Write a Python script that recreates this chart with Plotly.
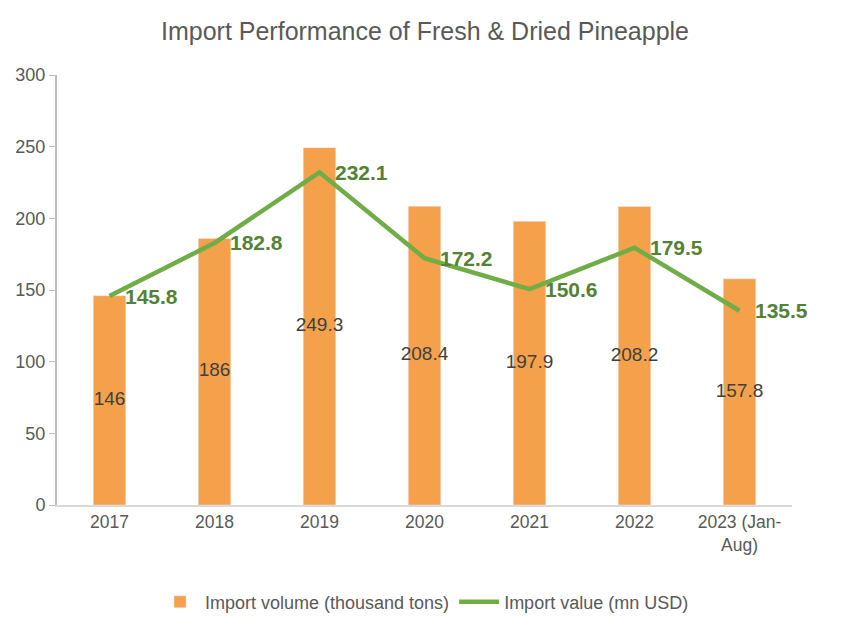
import plotly.graph_objects as go

categories = ["2017", "2018", "2019", "2020", "2021", "2022", "2023 (Jan-<br>Aug)"]
volume = [146, 186, 249.3, 208.4, 197.9, 208.2, 157.8]
value = [145.8, 182.8, 232.1, 172.2, 150.6, 179.5, 135.5]
volume_labels = ["146", "186", "249.3", "208.4", "197.9", "208.2", "157.8"]
value_labels = ["145.8", "182.8", "232.1", "172.2", "150.6", "179.5", "135.5"]

FONT = "Liberation Sans, Arial, sans-serif"

fig = go.Figure()
fig.add_trace(go.Bar(
    x=categories, y=volume, name="Import volume (thousand tons)",
    marker=dict(color="#F5A04A"), width=0.31,
))
fig.add_trace(go.Scatter(
    x=categories, y=value, name="Import value (mn USD)",
    mode="lines", line=dict(color="#70AD47", width=4.5),
))
# bar value labels at bar centre
fig.add_trace(go.Scatter(
    x=categories, y=[v / 2 for v in volume], mode="text", text=volume_labels,
    textposition="middle center", showlegend=False, hoverinfo="skip",
    textfont=dict(family=FONT, size=19, color="#404040"),
))
for i, (v, t) in enumerate(zip(value, value_labels)):
    fig.add_annotation(x=i, y=v, text=t, showarrow=False, xanchor="left",
                       yanchor="middle", xshift=13,
                       font=dict(family=FONT, size=21, color="#548235", weight="bold"))

fig.update_layout(
    width=850, height=631,
    margin=dict(l=57, r=58, t=75, b=125),
    paper_bgcolor="white", plot_bgcolor="white",
    font=dict(family=FONT, color="#595959"),
    title=dict(text="Import Performance of Fresh & Dried Pineapple",
               x=0.5, xanchor="center", y=0.95, yanchor="middle",
               font=dict(family=FONT, size=25, color="#595959")),
    showlegend=True,
    legend=dict(orientation="h", x=0.5, xanchor="center", y=-0.223, yanchor="middle",
                font=dict(family=FONT, size=18, color="#595959"), itemwidth=40),
)
fig.update_yaxes(range=[0, 300], dtick=50, showgrid=False, zeroline=False,
                 showline=True, linecolor="#BFBFBF", linewidth=2, automargin=False,
                 ticks="outside", ticklen=6, tickcolor="#BFBFBF",
                 tickfont=dict(family=FONT, size=18, color="#595959"))
fig.update_xaxes(type="category", range=[-0.5, len(categories) - 0.5],
                 showgrid=False, showline=True, linecolor="#D9D9D9",
                 linewidth=2, automargin=False,
                 ticks="", tickfont=dict(family=FONT, size=17.5, color="#595959"))

fig.write_html("out.html")
